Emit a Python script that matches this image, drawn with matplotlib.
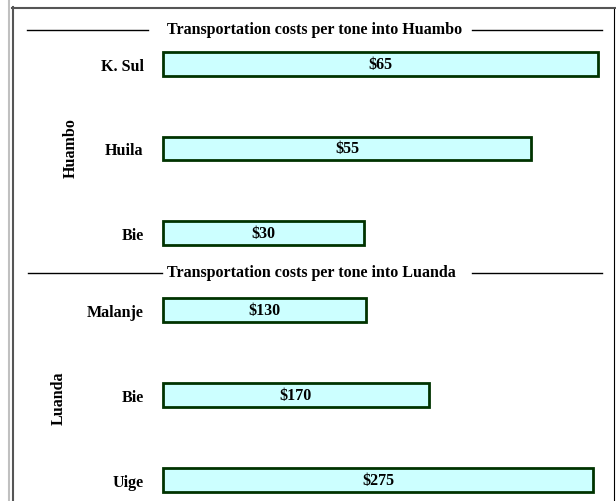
import matplotlib.pyplot as plt
from matplotlib.lines import Line2D

# data
huambo_cats = ["K. Sul", "Huila", "Bie"]
huambo_costs = [65, 55, 30]
luanda_cats = ["Malanje", "Bie", "Uige"]
luanda_costs = [130, 170, 275]

W, H = 616, 502
FONT = "Liberation Serif"
FS = 11.5
FILL = "#ccffff"
EDGE = "#003300"


def fx(px):
    return px / W


def fy(py):
    return 1 - py / H


fig = plt.figure(figsize=(6.16, 5.02), dpi=100)
fig.patch.set_facecolor("white")


def draw_panel(rect, cats, costs, xmax, ylim):
    ax = fig.add_axes(rect)
    ypos = list(range(len(cats)))
    bars = ax.barh(ypos, costs, height=0.28, color=FILL, edgecolor=EDGE, linewidth=2)
    for b in bars:
        b.set_clip_on(False)
    for y, v in zip(ypos, costs):
        ax.text(v / 2, y, f"${v}", ha="center", va="center",
                fontsize=FS, fontweight="bold", family=FONT)
    ax.set_yticks(ypos)
    ax.set_yticklabels(cats, fontsize=FS, fontweight="bold", family=FONT)
    ax.tick_params(axis="y", length=0, pad=14)
    ax.set_xticks([])
    ax.set_xlim(0, xmax)
    ax.set_ylim(*ylim)
    for s in ax.spines.values():
        s.set_visible(False)
    ax.patch.set_alpha(0)
    return ax


# top panel: 0 at x=163px, 65 at x=598px
draw_panel([fx(163), fy(276.25), fx(598) - fx(163), 253.5 / H],
           huambo_cats, huambo_costs, 65, (2.5, -0.5))
# bottom panel: 0 at x=163px, 275 at x=593px
draw_panel([fx(163), fy(498), fx(593) - fx(163), 230 / H],
           luanda_cats, luanda_costs, 275, (2.2, -0.5))

# section titles with side rules
fig.text(fx(315), fy(30), "Transportation costs per tone into Huambo",
         ha="center", va="center", fontsize=FS, fontweight="bold", family=FONT)
fig.text(fx(311), fy(273), "Transportation costs per tone into Luanda",
         ha="center", va="center", fontsize=FS, fontweight="bold", family=FONT)
for (x0, x1, y) in [(27, 148, 31), (472, 602, 31), (28, 162, 274), (472, 602, 274)]:
    fig.add_artist(Line2D([fx(x0), fx(x1)], [fy(y), fy(y)], color="black", lw=1))

# group labels
fig.text(fx(71), fy(148), "Huambo", rotation=90, ha="center", va="center",
         fontsize=FS, fontweight="bold", family=FONT)
fig.text(fx(59), fy(398), "Luanda", rotation=90, ha="center", va="center",
         fontsize=FS, fontweight="bold", family=FONT)

# frame
fig.add_artist(Line2D([fx(9), fx(9)], [0, 1], color="#c0c0c0", lw=1.5))
fig.add_artist(Line2D([fx(13), fx(13)], [0, fy(8)], color="#555555", lw=1.5))
fig.add_artist(Line2D([fx(12), fx(615)], [fy(9), fy(9)], color="#555555", lw=1.5))
fig.add_artist(Line2D([fx(614), fx(614)], [0, fy(10)], color="black", lw=0.8))

fig.savefig("out.png", dpi=100)
